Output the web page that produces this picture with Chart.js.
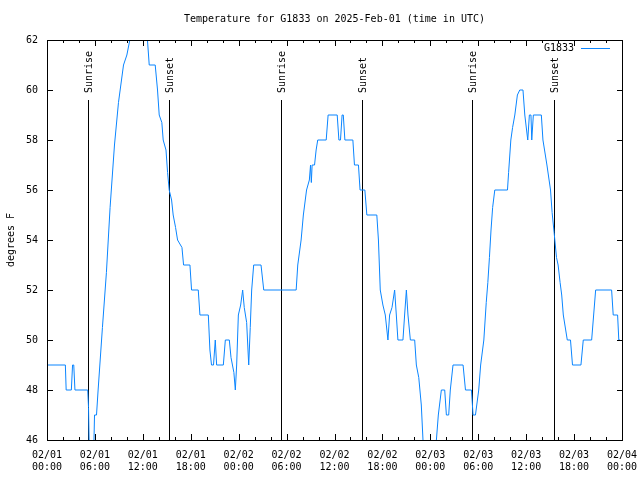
<!DOCTYPE html>
<html>
<head>
<meta charset="utf-8">
<script src="https://cdn.jsdelivr.net/npm/chart.js@4.4.1/dist/chart.umd.min.js"></script>
<style>
  html, body { margin: 0; padding: 0; background: #fff; }
  canvas { display: block; }
</style>
</head>
<body>
<canvas id="tempChart" width="640" height="480"></canvas>
<script>
// hours since 02/01 00:00 UTC and temperature (F)
const hours = [
  0, 2.3, 2.4, 3.05, 3.2, 3.35, 3.5, 5.1, 5.2, 5.3, 5.85, 5.95, 6.2, 6.4, 6.94, 7.44, 7.9, 8.45, 8.95, 9.58,
  10.0, 10.37, 11.5, 12.58, 12.8, 13.55, 13.84, 14.05, 14.38, 14.55, 14.9, 15.1, 15.3, 15.6, 15.8, 16.1, 16.35, 16.9, 17.1, 17.9,
  18.1, 18.94, 19.15, 20.2, 20.4, 20.6, 20.85, 21.07, 21.24, 22.08, 22.33, 22.83, 23.04, 23.4, 23.58, 23.75, 23.96, 24.25, 24.5, 24.7,
  25.0, 25.26, 25.45, 25.63, 25.88, 26.8, 27.14, 31.2, 31.4, 31.82, 32.1, 32.5, 32.85, 33.0, 33.1, 33.2, 33.5, 33.7, 33.9, 34.96,
  35.2, 36.34, 36.55, 36.75, 36.95, 37.1, 37.3, 38.3, 38.5, 39.0, 39.2, 39.8, 40.05, 41.3, 41.5, 41.73, 42.06, 42.36, 42.69, 42.9,
  43.2, 43.53, 43.74, 43.94, 44.57, 44.78, 45.0, 45.2, 45.5, 46.04, 46.25, 46.55, 46.87, 47.08, 47.3, 48.5, 48.76, 49.0, 49.38, 49.8,
  50.01, 50.3, 50.5, 50.84, 52.1, 52.4, 53.15, 53.35, 53.65, 54.06, 54.3, 54.7, 55.0, 55.2, 55.4, 55.6, 55.8, 56.07, 57.66, 57.8,
  58.08, 58.3, 58.58, 58.9, 59.2, 59.6, 59.83, 60.2, 60.4, 60.6, 60.7, 60.9, 61.9, 62.1, 62.6, 63.05, 63.25, 63.5, 63.8, 64.0,
  64.25, 64.45, 64.65, 65.15, 65.55, 65.8, 66.86, 67.15, 68.2, 68.45, 68.7, 70.7, 70.9, 71.45, 71.6, 71.75
];
const temps = [
  49, 49, 48, 48, 49, 49, 48, 48, 47.3, 45.5, 45.5, 47, 47, 48, 50.5, 52.7, 55.3, 57.8, 59.5, 61,
  61.4, 62, 63, 62, 61, 61, 60, 59, 58.7, 58, 57.6, 56.7, 56, 55.6, 55, 54.5, 54, 53.7, 53, 53,
  52, 52, 51, 51, 49.6, 49, 49, 50, 49, 49, 50, 50, 49.3, 48.7, 48, 49, 51, 51.4, 52, 51.3,
  50.7, 49, 50.5, 52, 53, 53, 52, 52, 53, 54, 55, 56, 56.4, 57, 56.3, 57, 57, 57.6, 58, 58,
  59, 59, 58, 58, 59, 59, 58, 58, 57, 57, 56, 56, 55, 55, 54, 52, 51.4, 51, 50, 51,
  51.3, 52, 51, 50, 50, 51, 52, 51, 50, 50, 49, 48.5, 47.4, 46, 45, 45, 46, 47, 48, 48,
  47, 47, 48, 49, 49, 48, 48, 47, 47, 48, 49, 50, 51.5, 52.3, 53.3, 54.4, 55.3, 56, 56, 56.7,
  58, 58.5, 59, 59.8, 60, 60, 59, 58, 59, 59, 58, 59, 59, 58, 57, 56, 55.1, 54.3, 53.3, 53,
  52.3, 51.8, 51, 50, 50, 49, 49, 50, 50, 51, 52, 52, 51, 51, 50, 50
];

// sunrise / sunset markers (hours since start)
const sunHours = [5.15, 15.3, 29.27, 39.43, 53.23, 63.5];
const sunLabels = ["Sunrise", "Sunset", "Sunrise", "Sunset", "Sunrise", "Sunset"];

// x tick labels every 6 hours
const xTickDates = ["02/01", "02/01", "02/01", "02/01", "02/02", "02/02", "02/02", "02/02", "02/03", "02/03", "02/03", "02/03", "02/04"];
const xTickTimes = ["00:00", "06:00", "12:00", "18:00", "00:00", "06:00", "12:00", "18:00", "00:00", "06:00", "12:00", "18:00", "00:00"];

const titleText = "Temperature for G1833 on 2025-Feb-01 (time in UTC)";
const yTitle = "degrees F";
const seriesName = "G1833";

const FONT = "'DejaVu Sans Mono', monospace";
const LINE_COLOR = "#0a85ff";

// gnuplot-like frame, inward ticks, labels and sun markers
const gnuplotDecor = {
  id: "gnuplotDecor",
  beforeDatasetsDraw(chart) {
    const ctx = chart.ctx;
    const { top, bottom } = chart.chartArea;
    const xs = chart.scales.x;
    const lineTop = Math.round(top + 0.15 * (bottom - top));
    ctx.save();
    ctx.strokeStyle = "#000";
    ctx.lineWidth = 1;
    ctx.fillStyle = "#000";
    ctx.font = "10px " + FONT;
    sunHours.forEach((h, i) => {
      const px = Math.round(xs.getPixelForValue(h)) + 0.5;
      ctx.beginPath();
      ctx.moveTo(px, lineTop);
      ctx.lineTo(px, bottom);
      ctx.stroke();
      ctx.save();
      ctx.translate(px + 1, lineTop - 7);
      ctx.rotate(-Math.PI / 2);
      ctx.textAlign = "left";
      ctx.textBaseline = "middle";
      ctx.fillText(sunLabels[i], 0, 0);
      ctx.restore();
    });
    ctx.restore();
  },
  afterDraw(chart) {
    const ctx = chart.ctx;
    const { left, right, top, bottom } = chart.chartArea;
    const xs = chart.scales.x;
    const ys = chart.scales.y;
    ctx.save();
    ctx.strokeStyle = "#000";
    ctx.lineWidth = 1;
    ctx.strokeRect(left + 0.5, top + 0.5, right - left, bottom - top);

    ctx.beginPath();
    xs.ticks.forEach((t) => {
      const px = Math.round(xs.getPixelForValue(t.value)) + 0.5;
      const len = t.value % 6 === 0 ? 6 : 3;
      ctx.moveTo(px, bottom);
      ctx.lineTo(px, bottom - len);
      ctx.moveTo(px, top);
      ctx.lineTo(px, top + len);
    });
    ys.ticks.forEach((t) => {
      const py = Math.round(ys.getPixelForValue(t.value)) + 0.5;
      ctx.moveTo(left, py);
      ctx.lineTo(left + 6, py);
      ctx.moveTo(right + 1, py);
      ctx.lineTo(right - 5, py);
    });
    ctx.stroke();

    ctx.fillStyle = "#000";
    ctx.font = "10px " + FONT;
    ctx.textAlign = "center";
    ctx.textBaseline = "middle";
    ctx.fillText(titleText, (left + right) / 2, 19);

    ctx.save();
    ctx.translate(11, (top + bottom) / 2);
    ctx.rotate(-Math.PI / 2);
    ctx.fillText(yTitle, 0, 0);
    ctx.restore();

    // key
    ctx.textAlign = "right";
    ctx.fillText(seriesName, right - 48, top + 8);
    ctx.strokeStyle = LINE_COLOR;
    ctx.beginPath();
    ctx.moveTo(right - 41, top + 8.5);
    ctx.lineTo(right - 12, top + 8.5);
    ctx.stroke();
    ctx.restore();
  }
};

const points = hours.map((h, i) => ({ x: h, y: temps[i] }));

new Chart(document.getElementById("tempChart").getContext("2d"), {
  type: "line",
  data: {
    datasets: [
      {
        label: seriesName,
        data: points,
        borderColor: LINE_COLOR,
        borderWidth: 1,
        pointRadius: 0,
        tension: 0,
        fill: false,
        clip: 0
      }
    ]
  },
  options: {
    responsive: false,
    animation: false,
    layout: { padding: { top: 40, right: 18, left: 0, bottom: 0 } },
    plugins: {
      legend: { display: false },
      title: { display: false },
      tooltip: { enabled: false }
    },
    scales: {
      x: {
        type: "linear",
        min: 0,
        max: 72,
        border: { display: false },
        grid: { display: false, drawTicks: false },
        afterFit: (scale) => {
          scale.height = 40;
          scale.paddingLeft = 0;
          scale.paddingRight = 0;
        },
        ticks: {
          stepSize: 2,
          autoSkip: false,
          maxRotation: 0,
          padding: 9,
          color: "#000",
          font: { family: FONT, size: 10, lineHeight: 1.2 },
          callback: (value) => {
            if (value % 6 !== 0) return "";
            const i = value / 6;
            return [xTickDates[i], xTickTimes[i]];
          }
        }
      },
      y: {
        min: 46,
        max: 62,
        border: { display: false },
        grid: { display: false, drawTicks: false },
        afterFit: (scale) => {
          scale.width = 47;
          scale.paddingTop = 0;
          scale.paddingBottom = 0;
        },
        ticks: {
          stepSize: 2,
          padding: 9,
          color: "#000",
          font: { family: FONT, size: 10 }
        }
      }
    }
  },
  plugins: [gnuplotDecor]
});
</script>
</body>
</html>
